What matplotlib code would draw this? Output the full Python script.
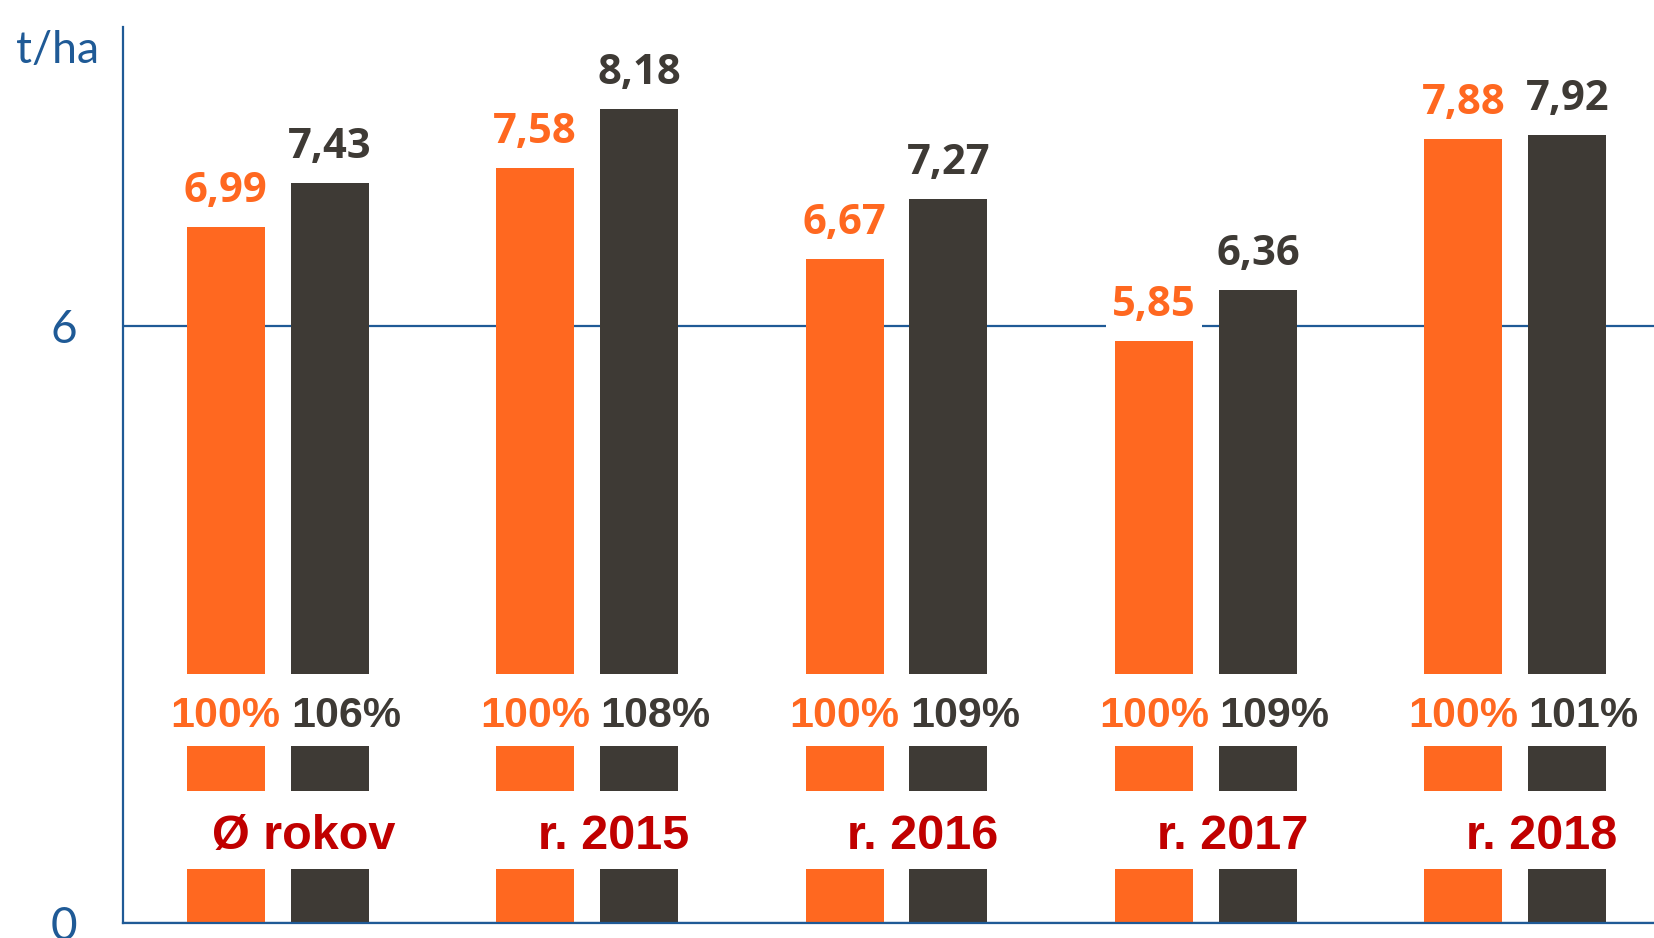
import matplotlib
matplotlib.use("Agg")
import matplotlib.pyplot as plt
import numpy as np

categories = ["Ø rokov", "r. 2015", "r. 2016", "r. 2017", "r. 2018"]
series_a = [6.99, 7.58, 6.67, 5.85, 7.88]
series_b = [7.43, 8.18, 7.27, 6.36, 7.92]
pct_a = ["100%", "100%", "100%", "100%", "100%"]
pct_b = ["106%", "108%", "109%", "109%", "101%"]
yticks = [0, 6]

ORANGE = "#FF6820"
DARK = "#3E3A35"
BLUE = "#1F5A96"
RED = "#C00000"

W, H = 1654, 938
fig = plt.figure(figsize=(W / 100, H / 100), dpi=100)
left = 123 / W
right = 1670 / W
bottom = 1 - 923 / H
top = 1 - 27 / H
ax = fig.add_axes([left, bottom, right - left, top - bottom])

x = np.arange(len(categories))
off = 0.168
bw = 0.252
ax.bar(x - off, series_a, bw, color=ORANGE, zorder=1)
ax.bar(x + off, series_b, bw, color=DARK, zorder=1)

ax.set_xlim(-0.5, len(categories) - 0.5)
ax.set_ylim(0, 9)

# white bands through the bars
ax.axhspan(1.78, 2.50, color="white", zorder=1.5, lw=0)
ax.axhspan(0.54, 1.33, color="white", zorder=1.5, lw=0)

for s in ["top", "right"]:
    ax.spines[s].set_visible(False)
for s in ["left", "bottom"]:
    ax.spines[s].set_color(BLUE)
    ax.spines[s].set_linewidth(1.6)
    ax.spines[s].set_zorder(2)

ax.set_xticks([])
ax.set_yticks(yticks)
ax.set_yticklabels([str(t) for t in yticks])
ax.tick_params(axis="y", length=0, pad=33, labelsize=33, labelcolor=BLUE)
for lab in ax.get_yticklabels():
    lab.set_fontfamily("Lato")
ax.yaxis.grid(True, color=BLUE, linewidth=1.6)
ax.set_axisbelow(True)

vfont = dict(family="Open Sans", weight="bold", fontsize=30)
bbox = dict(facecolor="white", edgecolor="none", boxstyle="square,pad=0.15")
for i in range(len(categories)):
    ax.annotate(f"{series_a[i]:.2f}".replace(".", ","), (x[i] - off, series_a[i]),
                xytext=(0, 18), textcoords="offset points", ha="center", va="baseline",
                color=ORANGE, bbox=bbox, zorder=3, **vfont)
    ax.annotate(f"{series_b[i]:.2f}".replace(".", ","), (x[i] + off, series_b[i]),
                xytext=(0, 18), textcoords="offset points", ha="center", va="baseline",
                color=DARK, bbox=bbox, zorder=3, **vfont)
    ax.text(x[i] - off, 2.08, pct_a[i], ha="center", va="center",
            color=ORANGE, family="Liberation Sans", weight="bold", fontsize=31, zorder=3)
    ax.text(x[i] + off + 0.053, 2.08, pct_b[i], ha="center", va="center",
            color=DARK, family="Liberation Sans", weight="bold", fontsize=31, zorder=3)
    ax.text(x[i] + 0.085, 0.87, categories[i], ha="center", va="center",
            color=RED, family="Liberation Sans", weight="bold", fontsize=35, zorder=3)

fig.text(16 / W, 1 - 63 / H, "t/ha", ha="left", va="baseline", color=BLUE,
         family="Lato", fontsize=32)

fig.savefig("out.png", dpi=100)
